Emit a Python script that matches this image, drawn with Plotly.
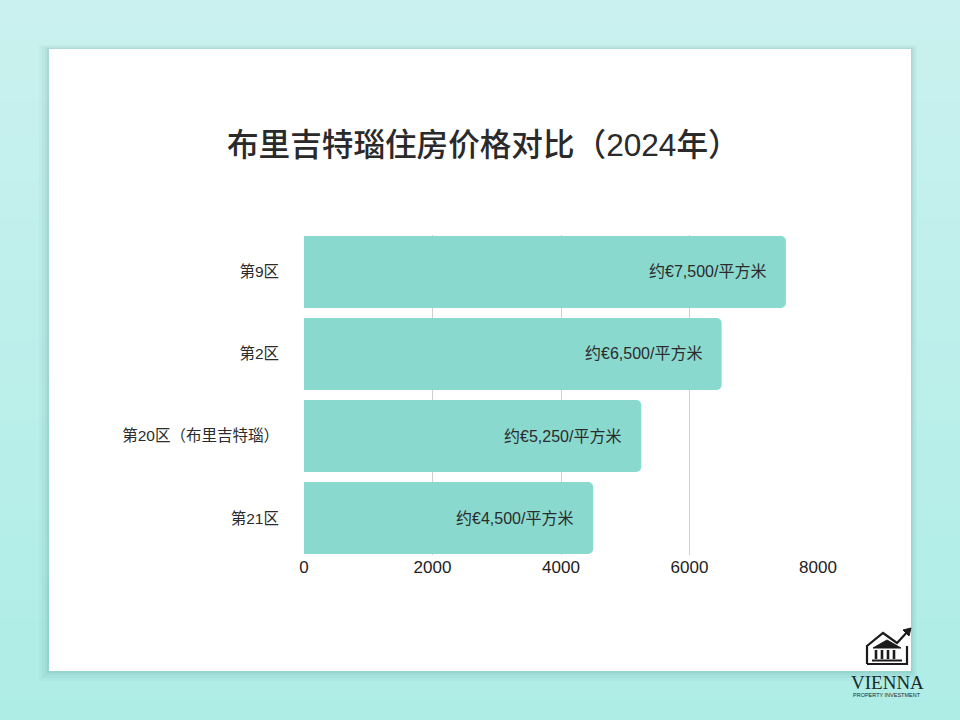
import plotly.graph_objects as go

categories = ["第9区", "第2区", "第20区（布里吉特瑙）", "第21区"]
prices = [7500, 6500, 5250, 4500]
price_labels = ["约€7,500/平方米", "约€6,500/平方米", "约€5,250/平方米", "约€4,500/平方米"]
x_ticks = [0, 2000, 4000, 6000, 8000]
title_text = "布里吉特瑙住房价格对比（2024年）"

W, H = 960, 720
FONT = "Liberation Sans, Noto Sans CJK SC, sans-serif"

def px(x):
    return x / W

def py(y):
    return 1 - y / H

shapes = []
# gradient background bands
top = (202, 241, 239)
bot = (174, 237, 230)
n = 36
for i in range(n):
    t = i / (n - 1)
    c = tuple(round(top[k] + (bot[k] - top[k]) * t) for k in range(3))
    shapes.append(dict(type="rect", xref="paper", yref="paper", layer="below",
                       x0=0, x1=1, y0=py(i * H / n + H / n + 1), y1=py(i * H / n),
                       fillcolor="rgb(%d,%d,%d)" % c, line_width=0))
# card shadow
for k, a in [(10, 0.03), (7, 0.04), (4, 0.05), (2, 0.07)]:
    shapes.append(dict(type="rect", xref="paper", yref="paper", layer="below",
                       x0=px(49 - k), x1=px(911 + k * 0.6), y0=py(671 + k), y1=py(49 - k * 0.4),
                       fillcolor="rgba(40,110,110,%s)" % a, line_width=0))
# card
shapes.append(dict(type="rect", xref="paper", yref="paper", layer="below",
                   x0=px(49), x1=px(911), y0=py(671), y1=py(49),
                   fillcolor="white", line_width=0))

# logo icon (house + arrow)
def path(pts, close=False):
    s = "M " + " L ".join("%f,%f" % (px(a), py(b)) for a, b in pts)
    return s + (" Z" if close else "")

shapes.append(dict(type="path", xref="paper", yref="paper", layer="above",
                   path=path([(867, 664), (867, 646), (883, 633), (897, 643), (909, 630)]),
                   line=dict(color="#1b1b1b", width=2.2)))
shapes.append(dict(type="path", xref="paper", yref="paper", layer="above",
                   path=path([(903, 630), (911, 628), (909, 636)], close=True),
                   fillcolor="#1b1b1b", line=dict(color="#1b1b1b", width=1)))
shapes.append(dict(type="path", xref="paper", yref="paper", layer="above",
                   path=path([(867, 664), (907, 664), (907, 646)]),
                   line=dict(color="#1b1b1b", width=2.2)))
shapes.append(dict(type="path", xref="paper", yref="paper", layer="above",
                   path=path([(873, 648), (887, 640), (901, 648)], close=True),
                   fillcolor="#1b1b1b", line=dict(color="#1b1b1b", width=1)))
for cx in [876, 882, 888, 894]:
    shapes.append(dict(type="rect", xref="paper", yref="paper", layer="above",
                       x0=px(cx - 1.3), x1=px(cx + 1.3), y0=py(659), y1=py(650),
                       fillcolor="#1b1b1b", line_width=0))
shapes.append(dict(type="rect", xref="paper", yref="paper", layer="above",
                   x0=px(872), x1=px(902), y0=py(661.5), y1=py(659.5),
                   fillcolor="#1b1b1b", line_width=0))

fig = go.Figure(go.Bar(
    x=prices, y=categories, orientation="h",
    marker=dict(color="#8ad9cf", line_width=0, cornerradius=5),
    hoverinfo="skip",
))

annotations = []
for cat, v, lab in zip(categories, prices, price_labels):
    annotations.append(dict(x=v, y=cat, xref="x", yref="y", text=lab, showarrow=False,
                            xanchor="right", xshift=-18, font=dict(size=16, color="#2b2b2b", family=FONT)))
annotations.append(dict(x=px(483), y=py(145), xref="paper", yref="paper", text=title_text,
                        showarrow=False, xanchor="center", yanchor="middle",
                        font=dict(size=31.6, color="#2a2a2a", family=FONT, weight=500)))
annotations.append(dict(x=px(887), y=py(682), xref="paper", yref="paper", text="VIENNA",
                        showarrow=False, xanchor="center", yanchor="middle",
                        font=dict(size=19, color="#1b2b2b", family="Liberation Serif, DejaVu Serif, serif")))
annotations.append(dict(x=px(887), y=py(695), xref="paper", yref="paper", text="PROPERTY INVESTMENT",
                        showarrow=False, xanchor="center", yanchor="middle",
                        font=dict(size=5.5, color="#1b2b2b", family="Liberation Sans, sans-serif")))

fig.update_layout(
    width=W, height=H,
    margin=dict(l=0, r=0, t=0, b=0),
    paper_bgcolor="rgb(202,241,239)",
    plot_bgcolor="rgba(0,0,0,0)",
    showlegend=False,
    bargap=0.123,
    shapes=shapes,
    annotations=annotations,
    font=dict(family=FONT, color="#2b2b2b"),
    xaxis=dict(domain=[px(304), px(818)], range=[0, 8000], tickvals=x_ticks,
               showgrid=True, gridcolor="#cfcfcf", gridwidth=1, zeroline=False,
               showline=False, ticks="", tickfont=dict(size=17, color="#222222", family=FONT),
               automargin=False, fixedrange=True),
    yaxis=dict(domain=[py(555), py(235)], range=[3.45, -0.45], showgrid=False,
               zeroline=False, showline=False, ticks="", ticklabelstandoff=24,
               tickfont=dict(size=15.5, color="#2b2b2b", family=FONT),
               automargin=False, fixedrange=True),
)

fig.write_html("out.html", config={"displayModeBar": False},
               post_script="document.body.style.margin='0';document.body.style.overflow='hidden';")
